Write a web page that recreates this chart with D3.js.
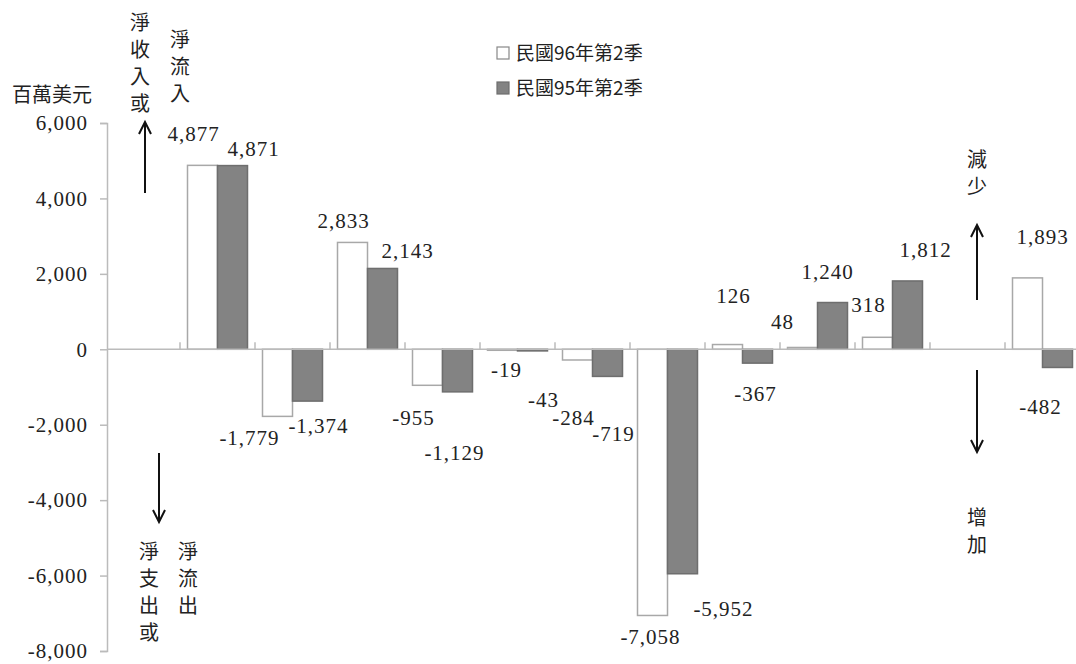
<!DOCTYPE html>
<html>
<head>
<meta charset="utf-8">
<script src="https://cdn.jsdelivr.net/npm/d3@7"></script>
<style>
  body { margin: 0; background: #fff; }
  text { font-family: "Liberation Serif", "Noto Sans CJK TC", serif; fill: #222; }
  .tick text { font-family: "Liberation Serif", serif !important; font-size: 21px !important; letter-spacing: 1px; fill: #222; }
  .cjk { font-family: "Noto Sans CJK TC", sans-serif; }
  .vert { font-family: "Noto Sans CJK TC", sans-serif; writing-mode: vertical-rl; }
</style>
</head>
<body>
<div id="chart"></div>
<script>
// 13 slots, first and 12th are empty (they hold the arrows)
var categories = ["c0","c1","c2","c3","c4","c5","c6","c7","c8","c9","c10","c11","c12"];
var series96 = [null, 4877, -1779, 2833, -955, -19, -284, -7058, 126, 48, 318, null, 1893];
var series95 = [null, 4871, -1374, 2143, -1129, -43, -719, -5952, -367, 1240, 1812, null, -482];
var seriesNames = ["民國96年第2季", "民國95年第2季"];
var yTicks = [-8000, -6000, -4000, -2000, 0, 2000, 4000, 6000];

// label nudges (px) relative to bar centre / bar end, as placed in the original
var nudge96 = [null,[-9,-32],[-28,21],[-9,-22],[-14,32],[4,20],[-4,58],[-2,21],[6,-49],[-20,-26],[-9,-33],null,[15,-41]];
var nudge95 = [null,[21,-17],[11,25],[25,-18],[-3,61],[11,49],[6,57],[41,35],[-2,31],[-5,-31],[18,-31],null,[-17,39]];

var W = 1076, H = 664;
var svg = d3.select("#chart").append("svg")
    .attr("width", W).attr("height", H);

var x = d3.scaleBand().domain(categories).range([105, 1080]);
var x1 = d3.scaleBand().domain([0, 1]).range([7.5, 67.5]);
var y = d3.scaleLinear().domain([-8000, 6000]).range([651, 123]);
var fmt = function(v) { return d3.format(",")(v).replace("\u2212", "-"); };

// y axis
var yAxis = svg.append("g")
    .attr("transform", "translate(107,0)")
    .call(d3.axisLeft(y).tickValues(yTicks).tickFormat(fmt).tickSize(7).tickPadding(12));
yAxis.attr("font-family", null).attr("font-size", null);
yAxis.select(".domain").attr("stroke", "#bbb").attr("stroke-width", 1.5);
yAxis.selectAll(".tick line").attr("stroke", "#bbb").attr("stroke-width", 1.5);
yAxis.selectAll(".tick text").attr("fill", "#222");

var rows = [];
categories.forEach(function(c, i) {
  if (series96[i] != null) rows.push({c: c, s: 0, v: series96[i], n: nudge96[i]});
  if (series95[i] != null) rows.push({c: c, s: 1, v: series95[i], n: nudge95[i]});
});

// bars
svg.append("g").selectAll("rect")
  .data(rows)
  .enter().append("rect")
    .attr("x", function(d) { return x(d.c) + x1(d.s); })
    .attr("width", x1.bandwidth())
    .attr("y", function(d) { return Math.min(y(d.v), y(0)); })
    .attr("height", function(d) { return Math.max(1, Math.abs(y(d.v) - y(0))); })
    .attr("fill", function(d) { return d.s === 0 ? "#fff" : "#838383"; })
    .attr("stroke", function(d) { return d.s === 0 ? "#a8a8a8" : "#6e6e6e"; })
    .attr("stroke-width", 1.5);

// zero line with upward ticks between categories
var zero = svg.append("g");
zero.append("line")
    .attr("x1", 107).attr("x2", 1080)
    .attr("y1", y(0)).attr("y2", y(0))
    .attr("stroke", "#bbb").attr("stroke-width", 1.5);
zero.selectAll(".sep")
  .data(categories.slice(1))
  .enter().append("line")
    .attr("x1", function(c) { return x(c); })
    .attr("x2", function(c) { return x(c); })
    .attr("y1", y(0)).attr("y2", y(0) - 7)
    .attr("stroke", "#bbb").attr("stroke-width", 1.5);

// value labels
svg.append("g").selectAll("text")
  .data(rows)
  .enter().append("text")
    .attr("x", function(d) { return x(d.c) + x1(d.s) + x1.bandwidth() / 2 + d.n[0]; })
    .attr("y", function(d) { return y(d.v) + d.n[1]; })
    .attr("text-anchor", "middle")
    .attr("dy", "0.35em")
    .style("font-size", "21px")
    .style("letter-spacing", "1px")
    .text(function(d) { return fmt(d.v); });

// unit
svg.append("text").attr("class", "cjk")
    .attr("x", 12).attr("y", 95).attr("dy", "0.35em")
    .style("font-size", "20px")
    .text("百萬美元");

// legend
var legend = svg.append("g").attr("transform", "translate(497,47)");
seriesNames.forEach(function(name, i) {
  legend.append("rect")
      .attr("x", 0).attr("y", i * 35)
      .attr("width", 12).attr("height", 12)
      .attr("fill", i === 0 ? "#fff" : "#838383")
      .attr("stroke", i === 0 ? "#888" : "#6e6e6e")
      .attr("stroke-width", 1.2);
  legend.append("text").attr("class", "cjk")
      .attr("x", 19).attr("y", i * 35 + 6).attr("dy", "0.35em")
      .style("font-size", "19px")
      .text(name);
});

// vertical annotation text (one text per column)
function vtext(str, cx, top) {
  svg.append("text").attr("class", "vert")
      .attr("x", cx).attr("y", top)
      .style("font-size", "20px")
      .style("letter-spacing", "7px")
      .text(str);
}
vtext("淨收入或", 140, 12);
vtext("淨流入", 180, 29);
vtext("淨支出或", 149, 541);
vtext("淨流出", 188, 541);
vtext("減少", 977, 149);
vtext("增加", 977, 507);

// arrows
function arrow(cx, yFrom, yTo) {
  var dir = yTo < yFrom ? 1 : -1;
  svg.append("line")
      .attr("x1", cx).attr("x2", cx)
      .attr("y1", yFrom).attr("y2", yTo)
      .attr("stroke", "#111").attr("stroke-width", 2);
  svg.append("path")
      .attr("d", "M" + (cx - 6) + "," + (yTo + dir * 12) + "L" + cx + "," + yTo + "L" + (cx + 6) + "," + (yTo + dir * 12))
      .attr("fill", "none").attr("stroke", "#111").attr("stroke-width", 2);
}
arrow(145, 193, 122);
arrow(159, 453, 522);
arrow(977, 300, 225);
arrow(977, 370, 452);
</script>
</body>
</html>
